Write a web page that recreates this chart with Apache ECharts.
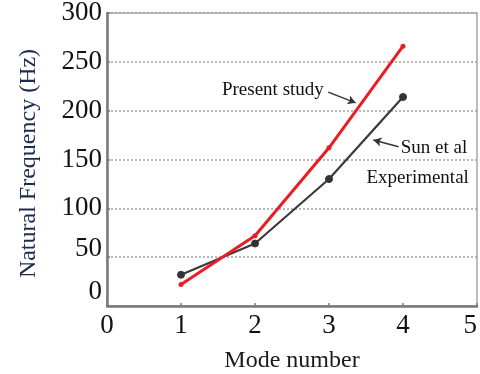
<!DOCTYPE html>
<html>
<head>
<meta charset="utf-8">
<script src="https://cdn.jsdelivr.net/npm/echarts@6/dist/echarts.min.js"></script>
<style>
  html, body { margin: 0; padding: 0; background: #fff; }
  #chart { width: 480px; height: 374px; }
</style>
</head>
<body>
<div id="chart"></div>
<script>
// Natural frequencies per vibration mode
const modes = [1, 2, 3, 4];
const presentStudy = [22, 72, 162, 266];
const sunExperimental = [32, 64, 130, 214];

// Frequency tick labels (Hz) and mode tick labels
const freqTicks = [0, 50, 100, 150, 200, 250, 300];
const modeTicks = [0, 1, 2, 3, 4, 5];

// Annotation anchors in data space
const presentLabel = { text: 'Present study', at: [2.93, 221] };
const presentArrow = [[2.99, 219], [3.36, 208]];
const sunLabel = { text: 'Sun et al', at: [3.97, 162] };
const expLabel = { text: 'Experimental', at: [4.89, 131] };
const sunArrow = [[3.94, 163], [3.6, 170]];

const serif = '"Liberation Serif", "Times New Roman", serif';

const pairs = (ys) => modes.map((m, i) => [m, ys[i]]);

// the lowest frequency labels sit a little above their ticks
const yLabelLift = { 0: 14, 50: 8 };
const yRich = {};
freqTicks.forEach((v) => {
  const lift = yLabelLift[v] || 0;
  yRich['t' + v] = { fontFamily: serif, fontSize: 27, color: '#111', padding: [0, 0, lift * 2, 0] };
});

const chart = echarts.init(document.getElementById('chart'), null, { renderer: 'canvas' });

chart.setOption({
  animation: false,
  backgroundColor: '#ffffff',
  grid: {
    left: 107, right: 3, top: 13, bottom: 68,
    outerBoundsMode: 'none',
    containLabel: false,
    show: true, borderColor: '#a8a8a8', borderWidth: 1.5
  },
  xAxis: {
    type: 'value', min: modeTicks[0], max: modeTicks[modeTicks.length - 1], interval: 1,
    name: 'Mode number', nameLocation: 'middle', nameGap: 43,
    nameTextStyle: { fontFamily: serif, fontSize: 24, color: '#1a1a1a' },
    axisLine: { show: true, lineStyle: { color: '#7a7a7a', width: 2.5 } },
    axisTick: { show: true, inside: true, length: 3, lineStyle: { color: '#7a7a7a', width: 1.5 } },
    axisLabel: {
      fontFamily: serif, fontSize: 27, color: '#111', margin: 6,
      showMaxLabel: true, showMinLabel: true, alignMaxLabel: 'right'
    },
    splitLine: { show: false }
  },
  yAxis: {
    type: 'value', min: freqTicks[0], max: freqTicks[freqTicks.length - 1], interval: 50,
    name: 'Natural Frequency (Hz)', nameLocation: 'middle', nameGap: 66,
    nameTextStyle: { fontFamily: serif, fontSize: 24, color: '#1d2b52', padding: [0, 0, 0, -8] },
    axisLine: { show: true, lineStyle: { color: '#7a7a7a', width: 2.5 } },
    axisTick: { show: true, inside: true, length: 3, lineStyle: { color: '#7a7a7a', width: 1.5 } },
    axisLabel: {
      margin: 5, showMaxLabel: true, showMinLabel: true,
      formatter: (v) => '{t' + v + '|' + v + '}',
      rich: yRich
    },
    splitLine: { show: true, lineStyle: { color: '#a0a0a0', type: [2, 2], width: 1.5 } }
  },
  series: [
    {
      name: 'Sun et al Experimental',
      type: 'line',
      data: pairs(sunExperimental),
      symbol: 'circle', symbolSize: 7,
      lineStyle: { color: '#3a3a3a', width: 2.2 },
      itemStyle: { color: '#333', borderColor: '#333', borderWidth: 1 },
      z: 2,
      markLine: {
        silent: true, symbol: ['none', 'arrow'], symbolSize: [7, 8],
        label: { show: false },
        lineStyle: { color: '#333', width: 1.5, type: 'solid' },
        data: [[{ coord: sunArrow[0] }, { coord: sunArrow[1] }]]
      },
      markPoint: {
        silent: true, symbol: 'circle', symbolSize: 0,
        data: [
          { coord: sunLabel.at, label: { show: true, formatter: sunLabel.text, position: 'right', distance: 0,
            fontFamily: serif, fontSize: 19, color: '#111' } },
          { coord: expLabel.at, label: { show: true, formatter: expLabel.text, position: 'left', distance: 0,
            fontFamily: serif, fontSize: 19, color: '#111' } }
        ]
      }
    },
    {
      name: 'Present study',
      type: 'line',
      data: pairs(presentStudy),
      symbol: 'circle', symbolSize: 5,
      lineStyle: { color: '#ec1c24', width: 3 },
      itemStyle: { color: '#ec1c24' },
      z: 3,
      markLine: {
        silent: true, symbol: ['none', 'arrow'], symbolSize: [7, 8],
        label: { show: false },
        lineStyle: { color: '#333', width: 1.5, type: 'solid' },
        data: [[{ coord: presentArrow[0] }, { coord: presentArrow[1] }]]
      },
      markPoint: {
        silent: true, symbol: 'circle', symbolSize: 0,
        data: [
          { coord: presentLabel.at, label: { show: true, formatter: presentLabel.text, position: 'left', distance: 0,
            fontFamily: serif, fontSize: 19, color: '#111' } }
        ]
      }
    }
  ]
});
</script>
</body>
</html>
